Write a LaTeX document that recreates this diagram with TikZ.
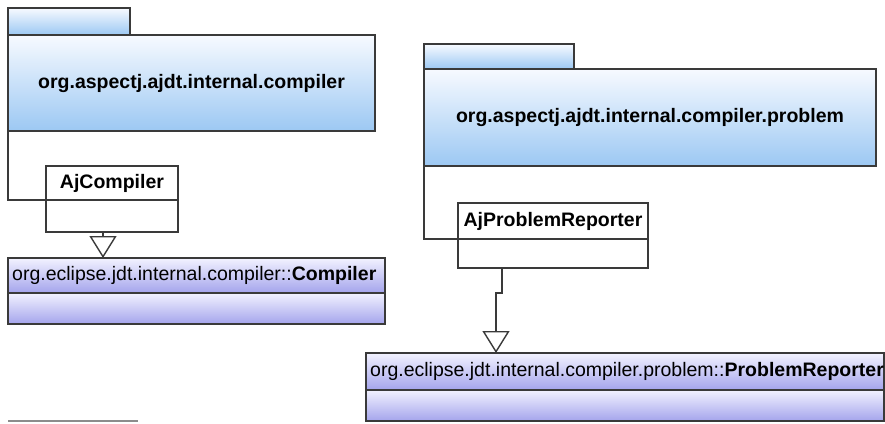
\documentclass[tikz,border=0pt]{standalone}
\usepackage{fontspec}
\setmainfont{Liberation Sans}
\usetikzlibrary{arrows.meta}
\definecolor{pkgtop}{HTML}{F7FAFF}
\definecolor{pkgmid}{HTML}{DCEBFC}
\definecolor{pkgbot}{HTML}{9CC8F3}
\definecolor{clstop}{HTML}{F2F2FF}
\definecolor{clsmid}{HTML}{D0D0F8}
\definecolor{clsbot}{HTML}{A4A4EC}
\definecolor{edge}{HTML}{3A3A3A}
\begin{document}
\begin{tikzpicture}[x=1pt,y=-1pt,
  font=\fontsize{19.5}{22}\selectfont,
  outline/.style={draw=edge, line width=1.4pt},
  cell/.style 2 args={rectangle, inner sep=0pt, outer sep=0pt, anchor=north west,
    minimum width=#1, minimum height=#2},
  pkgpart/.style={outline, top color=pkgtop, middle color=pkgmid, bottom color=pkgbot},
  clspart/.style={outline, top color=clstop, middle color=clsmid, bottom color=clsbot},
  plainpart/.style={outline, fill=white},
  boldname/.style={font=\fontsize{19.5}{22}\selectfont\bfseries},
  link/.style={draw=edge, line width=1.4pt},
  gen/.style={link, -{Triangle[open, length=22pt, width=27pt, fill=white]}}
]
\useasboundingbox (0,0) rectangle (885,423);

% package org.aspectj.ajdt.internal.compiler
\node[cell={122pt}{27pt}, pkgpart] (tabA) at (8,8) {};
\node[cell={367pt}{96pt}, pkgpart, boldname] (pkgA) at (8,35)
  {org.aspectj.ajdt.internal.compiler};

% package org.aspectj.ajdt.internal.compiler.problem
\node[cell={150pt}{25pt}, pkgpart] (tabB) at (424,44) {};
\node[cell={452pt}{97pt}, pkgpart, boldname] (pkgB) at (424,69)
  {org.aspectj.ajdt.internal.compiler.problem};

% class AjCompiler
\node[cell={132pt}{34pt}, plainpart, boldname] (ajcHead) at (46,166) {AjCompiler};
\node[cell={132pt}{32pt}, plainpart] (ajcBody) at (46,200) {};

% class AjProblemReporter
\node[cell={190pt}{36pt}, plainpart, boldname] (aprHead) at (458,203) {AjProblemReporter};
\node[cell={190pt}{29pt}, plainpart] (aprBody) at (458,239) {};

% class org.eclipse.jdt.internal.compiler::Compiler
\node[cell={377pt}{35pt}, clspart] (compHead) at (8,258) {};
\node[cell={377pt}{31pt}, clspart] (compBody) at (8,293) {};
\node[anchor=west, inner sep=0pt] (compName) at ([xshift=4pt]compHead.west)
  {org.eclipse.jdt.internal.compiler::\textbf{Compiler}};

% class org.eclipse.jdt.internal.compiler.problem::ProblemReporter
\node[cell={518pt}{37pt}, clspart] (prHead) at (366,353) {};
\node[cell={518pt}{31pt}, clspart] (prBody) at (366,390) {};
\node[anchor=west, inner sep=0pt] (prName) at ([xshift=4pt]prHead.west)
  {org.eclipse.jdt.internal.compiler.problem::\textbf{ProblemReporter}};

% containment lines from packages to their classes
\draw[link] (pkgA.south west) |- (ajcHead.south west);
\draw[link] (pkgB.south west) |- (aprHead.south west);

% generalizations
\coordinate (ajcOut) at (103,232);
\draw[gen] (ajcOut) -- (ajcOut |- compHead.north);

\coordinate (aprOut) at (502,268);
\coordinate (aprBend) at (502,293);
\coordinate (aprDrop) at (496,293);
\draw[gen] (aprOut) -- (aprBend) -- (aprDrop) -- (aprDrop |- prHead.north);

% stray rule at the lower left
\coordinate (ruleL) at (8,421);
\coordinate (ruleR) at (138,421);
\draw[draw=black!45, line width=1.4pt] (ruleL) -- (ruleR);
\end{tikzpicture}
\end{document}
